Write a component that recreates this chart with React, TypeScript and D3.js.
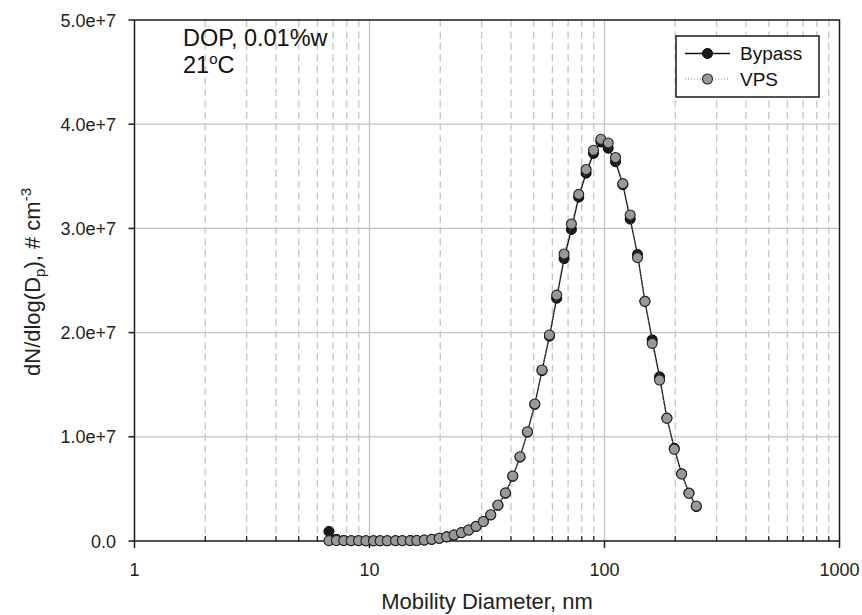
import React from "react";
import * as d3 from "d3";

const diameters = [6.72, 7.23, 7.77, 8.35, 8.98, 9.65, 10.4, 11.1, 11.9, 12.9, 13.8, 14.9, 15.9, 17.1, 18.4, 19.8, 21.3, 22.9, 24.6, 26.4, 28.4, 30.5, 32.8, 35.2, 37.9, 40.7, 43.7, 47.0, 50.5, 54.2, 58.3, 62.6, 67.3, 72.3, 77.7, 83.5, 89.8, 96.5, 103.7, 111.4, 119.7, 128.6, 138.2, 148.6, 159.6, 171.5, 184.3, 198.1, 212.9, 228.8, 245.8];

const bypass = [9.2e5, 1.6e5, 6e4, 3e4, 3e4, 2e4, 2e4, 2e4, 2e4, 3e4, 3e4, 4e4, 5e4, 9e4, 1.6e5, 2.6e5, 4.0e5, 5.8e5, 8.0e5, 1.05e6, 1.4e6, 1.87e6, 2.5e6, 3.42e6, 4.58e6, 6.2e6, 8.05e6, 1.045e7, 1.31e7, 1.635e7, 1.965e7, 2.33e7, 2.71e7, 2.99e7, 3.30e7, 3.53e7, 3.72e7, 3.83e7, 3.77e7, 3.64e7, 3.42e7, 3.09e7, 2.75e7, 2.30e7, 1.93e7, 1.575e7, 1.18e7, 8.9e6, 6.45e6, 4.6e6, 3.3e6];

const vps = [4e4, 5e4, 4e4, 3e4, 3e4, 2e4, 2e4, 2e4, 2e4, 3e4, 3e4, 4e4, 5e4, 9e4, 1.6e5, 2.6e5, 4.0e5, 5.8e5, 8.0e5, 1.05e6, 1.4e6, 1.87e6, 2.52e6, 3.45e6, 4.62e6, 6.24e6, 8.09e6, 1.049e7, 1.315e7, 1.641e7, 1.977e7, 2.36e7, 2.754e7, 3.042e7, 3.327e7, 3.565e7, 3.75e7, 3.855e7, 3.82e7, 3.68e7, 3.43e7, 3.129e7, 2.72e7, 2.30e7, 1.897e7, 1.545e7, 1.178e7, 8.8e6, 6.43e6, 4.58e6, 3.36e6];

const yTicks = [0, 1e7, 2e7, 3e7, 4e7, 5e7];
const yTickLabels = ["0.0", "1.0e+7", "2.0e+7", "3.0e+7", "4.0e+7", "5.0e+7"];
const xMajor = [1, 10, 100, 1000];
const xMajorLabels = ["1", "10", "100", "1000"];
const seriesNames = ["Bypass", "VPS"];

const FONT = "'Liberation Sans', Arial, Helvetica, sans-serif";

export default function App() {
  const left = 134.5, right = 839.5, top = 20, bottom = 541;
  const x = d3.scaleLog().domain([1, 1000]).range([left, right]);
  const y = d3.scaleLinear().domain([0, 5e7]).range([bottom, top]);

  const minors: number[] = [];
  [1, 10, 100].forEach((dec) => {
    for (let k = 2; k <= 9; k++) minors.push(dec * k);
  });

  const line = d3
    .line<number>()
    .x((_, i) => x(diameters[i]))
    .y((v) => y(v));

  const grid = "#c4c4c4";
  const axisColor = "#1a1a1a";
  const R = 5;

  return (
    <svg
      width={862}
      height={615}
      style={{ position: "absolute", left: 0, top: 0, background: "#fff" }}
      fontFamily={FONT}
    >
      {/* grid */}
      {minors.map((m) => (
        <line key={"mg" + m} x1={x(m)} x2={x(m)} y1={top} y2={bottom} stroke={grid} strokeWidth={1.3} strokeDasharray="7,4.5" />
      ))}
      {[10, 100].map((m) => (
        <line key={"Mg" + m} x1={x(m)} x2={x(m)} y1={top} y2={bottom} stroke={grid} strokeWidth={1.3} />
      ))}
      {yTicks.slice(1, 5).map((t) => (
        <line key={"yg" + t} x1={left} x2={right} y1={y(t)} y2={y(t)} stroke={grid} strokeWidth={1.3} />
      ))}

      {/* frame */}
      <rect x={left} y={top} width={right - left} height={bottom - top} fill="none" stroke={axisColor} strokeWidth={1.5} />

      {/* x ticks */}
      {xMajor.map((m, i) => (
        <g key={"xt" + m}>
          <line x1={x(m)} x2={x(m)} y1={bottom} y2={bottom + 7} stroke={axisColor} strokeWidth={1.5} />
          <text x={x(m)} y={576} fontSize={18} textAnchor="middle" fill="#222">
            {xMajorLabels[i]}
          </text>
        </g>
      ))}
      {minors.map((m) => (
        <line key={"xm" + m} x1={x(m)} x2={x(m)} y1={bottom} y2={bottom - 5} stroke={axisColor} strokeWidth={1.2} />
      ))}

      {/* y ticks */}
      {yTicks.map((t, i) => (
        <g key={"yt" + t}>
          <line x1={left - 6} x2={left} y1={y(t)} y2={y(t)} stroke={axisColor} strokeWidth={1.5} />
          <text x={116} y={y(t) + 6.5} fontSize={18} textAnchor="end" fill="#222">
            {yTickLabels[i]}
          </text>
        </g>
      ))}

      {/* axis titles */}
      <text x={487} y={609} fontSize={22} textAnchor="middle" fill="#222">
        Mobility Diameter, nm
      </text>
      <text transform="translate(40,282) rotate(-90)" fontSize={22} textAnchor="middle" fill="#222">
        dN/dlog(D<tspan fontSize={15} dy={5}>p</tspan>
        <tspan dy={-5}>), # cm</tspan>
        <tspan fontSize={15} dy={-9}>-3</tspan>
      </text>

      {/* annotation */}
      <text x={183} y={46} fontSize={23.5} fill="#111">DOP, 0.01%w</text>
      <text x={183} y={73} fontSize={23.5} fill="#111">
        21<tspan fontSize={15} dy={-9}>o</tspan>
        <tspan dy={9}>C</tspan>
      </text>

      {/* series: Bypass */}
      <path d={line(bypass) || ""} fill="none" stroke="#111" strokeWidth={1.3} />
      {bypass.map((v, i) => (
        <circle key={"b" + i} cx={x(diameters[i])} cy={y(v)} r={R} fill="#1a1a1a" stroke="#000" strokeWidth={1} />
      ))}
      {/* series: VPS */}
      <path d={line(vps) || ""} fill="none" stroke="#888" strokeWidth={1} strokeDasharray="1,2" />
      {vps.map((v, i) => (
        <circle key={"v" + i} cx={x(diameters[i])} cy={y(v)} r={R} fill="#999" stroke="#222" strokeWidth={1.1} />
      ))}

      {/* legend */}
      <rect x={676} y={36} width={143} height={61} fill="#fff" stroke={axisColor} strokeWidth={1.5} />
      <line x1={685} x2={730} y1={53.5} y2={53.5} stroke="#111" strokeWidth={1.3} />
      <circle cx={707.5} cy={53.5} r={R} fill="#1a1a1a" stroke="#000" />
      <text x={740} y={60} fontSize={19} fill="#111">{seriesNames[0]}</text>
      <line x1={685} x2={730} y1={79} y2={79} stroke="#888" strokeWidth={1} strokeDasharray="1,2" />
      <circle cx={707.5} cy={79} r={R} fill="#999" stroke="#222" strokeWidth={1.1} />
      <text x={740} y={86} fontSize={19} fill="#111">{seriesNames[1]}</text>
    </svg>
  );
}
